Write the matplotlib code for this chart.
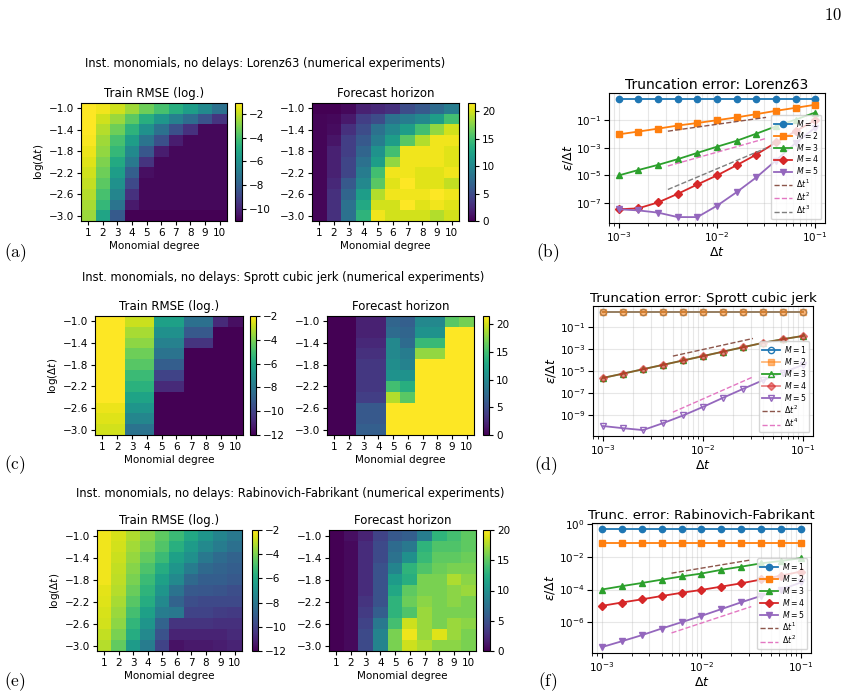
import numpy as np
import matplotlib
matplotlib.use('Agg')
import matplotlib.pyplot as plt

plt.rcParams['mathtext.fontset'] = 'dejavusans'

# ---- heatmap data: rows log(dt) = -1.0 ... -3.0, columns degree 1..10
degrees = [1, 2, 3, 4, 5, 6, 7, 8, 9, 10]
log_dt = [-1.0, -1.2, -1.4, -1.6, -1.8, -2.0, -2.2, -2.4, -2.6, -2.8, -3.0]
ytick_vals = [-1.0, -1.4, -1.8, -2.2, -2.6, -3.0]

lorenz_rmse = [
    [-1.1, -1.3, -1.8, -2.5, -3.3, -4.0, -4.8, -5.5, -6.3, -7.3],
    [-1.1, -1.8, -2.6, -3.6, -4.8, -5.8, -6.7, -7.5, -8.5, -9.5],
    [-1.1, -2.2, -3.3, -4.6, -6.0, -7.3, -8.6, -9.6, -10.8, -10.8],
    [-1.2, -2.5, -4.0, -5.5, -7.2, -8.6, -10.2, -10.8, -10.8, -10.8],
    [-1.4, -2.7, -4.4, -6.3, -8.3, -10.2, -10.8, -10.8, -10.8, -10.8],
    [-1.6, -3.0, -5.0, -7.0, -9.5, -10.8, -10.8, -10.8, -10.8, -10.8],
    [-1.8, -3.3, -5.5, -8.0, -10.6, -10.8, -10.8, -10.8, -10.8, -10.8],
    [-2.0, -3.6, -6.0, -8.8, -10.8, -10.8, -10.8, -10.8, -10.8, -10.8],
    [-2.2, -4.0, -6.5, -9.6, -10.8, -10.8, -10.8, -10.8, -10.8, -10.8],
    [-2.4, -4.4, -7.2, -10.3, -10.8, -10.8, -10.8, -10.8, -10.8, -10.8],
    [-2.6, -5.2, -8.2, -11.0, -11.0, -11.0, -11.0, -11.0, -11.0, -11.0],
]
lorenz_fh = [
    [0.0, 0.0, 0.5, 2.0, 2.5, 3.0, 5.0, 6.0, 7.5, 9.0],
    [0.3, 0.5, 1.5, 4.0, 5.0, 8.0, 9.0, 10.0, 12.0, 15.0],
    [0.3, 0.7, 3.0, 5.0, 8.0, 10.0, 12.0, 15.0, 18.0, 20.0],
    [0.3, 1.2, 4.0, 6.0, 9.0, 12.0, 16.0, 19.0, 21.0, 21.0],
    [0.3, 2.0, 4.0, 7.0, 11.0, 15.0, 21.0, 21.0, 21.0, 20.5],
    [0.3, 2.0, 4.5, 8.0, 12.0, 18.0, 21.0, 21.0, 21.0, 20.5],
    [0.3, 2.0, 4.5, 9.0, 15.0, 21.0, 21.0, 20.5, 20.5, 21.0],
    [0.3, 2.5, 6.0, 10.0, 16.0, 20.5, 21.5, 20.5, 20.5, 19.5],
    [0.3, 3.0, 7.0, 12.0, 19.0, 21.0, 21.0, 21.0, 21.5, 21.0],
    [0.3, 3.0, 8.0, 13.0, 20.0, 20.0, 21.5, 20.5, 21.0, 20.5],
    [0.3, 3.0, 8.0, 14.0, 21.0, 20.0, 20.0, 20.0, 19.0, 20.0],
]
sprott_rmse = [
    [-2.0, -2.0, -2.8, -2.8, -6.3, -6.3, -8.3, -8.3, -10.8, -11.6],
    [-2.0, -2.0, -3.3, -3.3, -7.0, -7.0, -9.2, -9.2, -12.0, -12.0],
    [-2.0, -2.0, -3.7, -3.7, -7.6, -7.6, -10.5, -10.5, -12.0, -12.0],
    [-2.0, -2.0, -4.2, -4.2, -8.2, -8.2, -12.0, -12.0, -12.0, -12.0],
    [-2.0, -2.0, -4.6, -4.6, -9.0, -9.0, -12.0, -12.0, -12.0, -12.0],
    [-2.0, -2.0, -5.2, -5.2, -10.0, -10.0, -12.0, -12.0, -12.0, -12.0],
    [-2.0, -2.0, -5.6, -5.6, -10.8, -10.8, -12.0, -12.0, -12.0, -12.0],
    [-2.0, -2.0, -6.2, -6.2, -12.0, -12.0, -12.0, -12.0, -12.0, -12.0],
    [-2.3, -2.3, -6.8, -6.8, -12.0, -12.0, -12.0, -12.0, -12.0, -12.0],
    [-2.5, -2.5, -7.4, -7.4, -12.0, -12.0, -12.0, -12.0, -12.0, -12.0],
    [-2.7, -2.7, -8.2, -8.2, -12.0, -12.0, -12.0, -12.0, -12.0, -12.0],
]
sprott_fh = [
    [0, 0, 2.0, 2.0, 7.0, 6.5, 10.0, 10.0, 16.0, 17.0],
    [0, 0, 2.0, 2.0, 7.5, 7.0, 11.0, 11.0, 21.5, 21.5],
    [0, 0, 2.5, 2.5, 10.0, 7.5, 14.5, 14.5, 21.5, 21.5],
    [0, 0, 3.0, 3.0, 10.0, 9.0, 18.0, 18.0, 21.5, 21.5],
    [0, 0, 3.5, 3.5, 10.5, 9.5, 21.5, 21.5, 21.5, 21.5],
    [0, 0, 3.5, 3.5, 11.0, 11.0, 21.5, 21.5, 21.5, 21.5],
    [0, 0, 3.5, 3.5, 15.0, 13.5, 21.5, 21.5, 21.5, 21.5],
    [0, 0, 4.0, 4.0, 19.0, 16.0, 21.5, 21.5, 21.5, 21.5],
    [0, 0, 6.0, 6.0, 21.5, 21.5, 21.5, 21.5, 21.5, 21.5],
    [0, 0, 6.0, 6.0, 21.5, 21.5, 21.5, 21.5, 21.5, 21.5],
    [0, 0, 6.5, 6.5, 21.5, 21.5, 21.5, 21.5, 21.5, 21.5],
]
rabino_rmse = [
    [-2.2, -2.6, -3.2, -3.8, -4.5, -5.2, -6.0, -6.8, -7.5, -8.0],
    [-2.2, -2.7, -3.4, -4.0, -4.7, -5.7, -6.5, -7.3, -7.8, -8.3],
    [-2.2, -2.8, -3.6, -4.4, -5.2, -6.3, -7.0, -8.0, -8.5, -8.8],
    [-2.2, -2.9, -3.8, -4.8, -5.8, -6.8, -7.8, -8.6, -8.8, -9.0],
    [-2.2, -3.0, -4.0, -5.2, -6.3, -7.3, -8.6, -9.0, -9.0, -9.2],
    [-2.4, -3.1, -4.3, -5.5, -6.8, -8.2, -9.2, -9.3, -9.4, -9.6],
    [-2.5, -3.3, -4.6, -5.8, -7.3, -8.8, -9.6, -9.8, -9.8, -9.8],
    [-2.6, -3.5, -5.0, -6.3, -7.8, -8.0, -10.0, -10.0, -10.2, -10.3],
    [-2.7, -3.7, -5.4, -6.8, -8.8, -10.5, -10.5, -10.5, -10.6, -10.6],
    [-2.9, -4.0, -5.8, -7.3, -9.5, -11.0, -11.0, -11.0, -11.0, -10.8],
    [-3.1, -4.4, -6.5, -7.8, -10.0, -11.5, -11.3, -11.3, -11.2, -11.0],
]
rabino_fh = [
    [0, 0.8, 2.0, 4.0, 5.5, 6.0, 8.5, 13.0, 14.0, 15.0],
    [0, 0.5, 2.5, 4.5, 7.0, 8.0, 13.0, 14.5, 14.5, 15.0],
    [0, 0.5, 2.5, 4.5, 7.5, 10.0, 13.5, 15.0, 15.0, 15.5],
    [0, 0.5, 2.5, 5.0, 9.0, 13.0, 14.5, 15.5, 16.0, 16.0],
    [0, 0.5, 2.5, 5.0, 11.0, 12.5, 16.0, 16.0, 17.5, 16.5],
    [0, 0.5, 2.5, 5.0, 12.0, 15.0, 16.0, 16.0, 16.5, 17.0],
    [0, 0.5, 3.0, 5.0, 13.0, 15.5, 16.5, 16.0, 16.5, 16.0],
    [0, 0.5, 3.5, 6.0, 13.0, 14.5, 17.0, 16.0, 16.0, 16.0],
    [0, 0.5, 4.0, 8.0, 14.0, 18.5, 17.0, 16.0, 17.0, 16.5],
    [0, 0.5, 4.5, 9.0, 16.0, 19.5, 17.0, 19.0, 17.0, 16.0],
    [0, 0.5, 4.5, 9.0, 16.0, 18.5, 17.5, 16.5, 16.5, 16.0],
]

# ---- truncation error data
dt = [1e-3, 1.58e-3, 2.51e-3, 3.98e-3, 6.31e-3, 1e-2, 1.58e-2, 2.51e-2, 3.98e-2, 6.31e-2, 1e-1]
ref_dt_b = [3.16e-3, 3.16e-2]
ref_dt_df = [5e-3, 3.16e-2]

lor_M1 = [3.5, 3.5, 3.5, 3.5, 3.5, 3.5, 3.5, 3.5, 3.5, 3.5, 3.5]
lor_M2 = [9.5e-3, 1.5e-2, 2.45e-2, 4.1e-2, 6.3e-2, 1.0e-1, 1.6e-1, 2.75e-1, 4.8e-1, 7.9e-1, 1.32]
lor_M3 = [1.0e-5, 2.45e-5, 5.8e-5, 1.5e-4, 4.3e-4, 1.2e-3, 3.2e-3, 1.05e-2, 3.6e-2, 1.1e-1, 3.6e-1]
lor_M4 = [3.5e-8, 4.1e-8, 1.1e-7, 4.6e-7, 2.2e-6, 1.0e-5, 5.4e-5, 3.2e-4, 2.45e-3, 1.6e-2, 1.0e-1]
lor_M5 = [3.5e-8, 2.9e-8, 2.0e-8, 9.5e-9, 9.5e-9, 6.3e-8, 6.0e-7, 7.1e-6, 1.2e-4, 2.2e-3, 2.9e-2]
lor_ref1 = [1.6e-2, 1.6e-1]
lor_ref2 = [4.8e-5, 4.8e-3]
lor_ref3 = [9.5e-7, 9.5e-4]

spr_M1 = [2.6, 2.6, 2.6, 2.6, 2.6, 2.6, 2.6, 2.6, 2.6, 2.6, 2.6]
spr_M2 = [2.6, 2.6, 2.6, 2.6, 2.6, 2.6, 2.6, 2.6, 2.6, 2.6, 2.6]
spr_M3 = [2.6e-6, 6.3e-6, 1.6e-5, 4.0e-5, 1.0e-4, 2.5e-4, 6.3e-4, 1.6e-3, 4.0e-3, 8.7e-3, 1.7e-2]
spr_M4 = [2.6e-6, 6.3e-6, 1.6e-5, 4.0e-5, 1.0e-4, 2.5e-4, 6.3e-4, 1.6e-3, 4.0e-3, 8.7e-3, 1.7e-2]
spr_M5 = [1.1e-10, 7e-11, 4.7e-11, 2.0e-10, 1.0e-9, 6.0e-9, 4.0e-8, 2.6e-7, 1.6e-6, 8e-6, 4e-5]
spr_ref2 = [2.5e-4, 1.0e-2]
spr_ref4 = [2.0e-9, 3.2e-6]

rab_M1 = [0.51, 0.51, 0.51, 0.51, 0.51, 0.51, 0.51, 0.51, 0.51, 0.51, 0.51]
rab_M2 = [0.074, 0.074, 0.074, 0.074, 0.074, 0.074, 0.074, 0.074, 0.074, 0.074, 0.074]
rab_M3 = [1.0e-4, 1.6e-4, 2.5e-4, 4.0e-4, 6.3e-4, 9.5e-4, 1.6e-3, 2.5e-3, 4.0e-3, 5.6e-3, 8.3e-3]
rab_M4 = [1.0e-5, 1.6e-5, 2.5e-5, 4.0e-5, 6.3e-5, 9.5e-5, 1.5e-4, 2.4e-4, 4.1e-4, 7.1e-4, 1.26e-3]
rab_M5 = [3.0e-8, 6.8e-8, 1.6e-7, 4.1e-7, 1.0e-6, 2.45e-6, 6.3e-6, 1.66e-5, 4.1e-5, 1.0e-4, 2.7e-4]
rab_ref1 = [1.0e-3, 6.5e-3]
rab_ref2 = [2.2e-7, 9e-6]

W, H = 854, 700
fig = plt.figure(figsize=(W / 100, H / 100), dpi=100)


def box(l, t, r, b):
    # pixel box (top-left origin) -> figure fraction
    return [l / W, 1 - b / H, (r - l) / W, (b - t) / H]


FS = 7.5


def heatmap(data, hm_box, cb_box, title, ylabel=True, vmin=None, vmax=None):
    ax = fig.add_axes(box(*hm_box))
    im = ax.imshow(np.array(data), cmap='viridis', aspect='auto',
                   extent=[0.5, 10.5, log_dt[-1] - 0.1, log_dt[0] + 0.1],
                   vmin=vmin, vmax=vmax, interpolation='nearest')
    ax.set_xticks(degrees)
    ax.set_yticks(ytick_vals)
    ax.tick_params(labelsize=FS, length=3, pad=2)
    ax.set_xlabel('Monomial degree', fontsize=FS, labelpad=2)
    if ylabel:
        ax.set_ylabel(r'log($\Delta t$)', fontsize=FS, labelpad=2)
    ax.set_title(title, fontsize=8.5, pad=4)
    cax = fig.add_axes(box(*cb_box))
    cb = fig.colorbar(im, cax=cax)
    cb.ax.tick_params(labelsize=FS, length=3, pad=2)
    return ax


def trunc(ax_box, title, series, refs, open_odd=False, tfs=10):
    ax = fig.add_axes(box(*ax_box))
    markers = ['o', 's', '^', 'D', 'v']
    colors = ['tab:blue', 'tab:orange', 'tab:green', 'tab:red', 'tab:purple']
    for i, y in enumerate(series):
        kw = dict(color=colors[i], marker=markers[i], lw=1.3, ms=4.5,
                  label=r'$M = %d$' % (i + 1))
        if open_odd:
            if i % 2 == 0:
                kw['markerfacecolor'] = 'none'
            else:
                kw['alpha'] = 0.55
        ax.loglog(dt, y, **kw)
    for rx, ry, c, lab in refs:
        ax.loglog(rx, ry, ls='--', color=c, lw=1.0, label=lab)
    ax.grid(True, which='both', alpha=0.3)
    ax.set_title(title, fontsize=tfs, pad=3)
    ax.set_xlabel(r'$\Delta t$', fontsize=9, labelpad=1)
    ax.set_ylabel(r'$\epsilon/\Delta t$', fontsize=9, labelpad=1)
    ax.tick_params(labelsize=FS, pad=2)
    ax.legend(loc='lower right', fontsize=5.6, handlelength=2.3,
              borderpad=0.35, labelspacing=0.12, handletextpad=0.5)
    return ax


# row 1: Lorenz63
fig.text(265 / W, 1 - 63 / H, 'Inst. monomials, no delays: Lorenz63 (numerical experiments)',
         ha='center', va='center', fontsize=8.3)
heatmap(lorenz_rmse, (81, 103, 227, 221), (235, 103, 242, 221), 'Train RMSE (log.)')
heatmap(lorenz_fh, (312, 103, 459, 221), (468, 103, 475, 221), 'Forecast horizon', ylabel=False)
trunc((609, 93, 825, 223), 'Truncation error: Lorenz63',
      [lor_M1, lor_M2, lor_M3, lor_M4, lor_M5],
      [(ref_dt_b, lor_ref1, 'tab:brown', r'$\Delta t^1$'),
       (ref_dt_b, lor_ref2, 'tab:pink', r'$\Delta t^2$'),
       (ref_dt_b, lor_ref3, 'tab:gray', r'$\Delta t^3$')])

# row 2: Sprott cubic jerk
fig.text(283 / W, 1 - 278 / H, 'Inst. monomials, no delays: Sprott cubic jerk (numerical experiments)',
         ha='center', va='center', fontsize=8.3)
heatmap(sprott_rmse, (95, 316, 243, 435), (250, 316, 256, 435), 'Train RMSE (log.)', vmin=-12, vmax=-2)
heatmap(sprott_fh, (327, 316, 474, 435), (483, 316, 489, 435), 'Forecast horizon', ylabel=False)
trunc((593, 306, 813, 436), 'Truncation error: Sprott cubic jerk',
      [spr_M1, spr_M2, spr_M3, spr_M4, spr_M5],
      [(ref_dt_df, spr_ref2, 'tab:brown', r'$\Delta t^2$'),
       (ref_dt_df, spr_ref4, 'tab:pink', r'$\Delta t^4$')], open_odd=True, tfs=9.6)

# row 3: Rabinovich-Fabrikant
fig.text(290 / W, 1 - 494 / H, 'Inst. monomials, no delays: Rabinovich-Fabrikant (numerical experiments)',
         ha='center', va='center', fontsize=8.3)
heatmap(rabino_rmse, (97, 530, 242, 651), (252, 530, 258, 651), 'Train RMSE (log.)', vmin=-12, vmax=-2)
heatmap(rabino_fh, (329, 530, 476, 651), (483, 530, 490, 651), 'Forecast horizon', ylabel=False, vmin=0, vmax=20)
trunc((592, 523, 811, 653), 'Trunc. error: Rabinovich-Fabrikant',
      [rab_M1, rab_M2, rab_M3, rab_M4, rab_M5],
      [(ref_dt_df, rab_ref1, 'tab:brown', r'$\Delta t^1$'),
       (ref_dt_df, rab_ref2, 'tab:pink', r'$\Delta t^2$')], tfs=9.6)

# panel labels and page number (Computer Modern look)
for lab, x, y in [('(a)', 15, 253), ('(b)', 548, 253), ('(c)', 15, 465),
                  ('(d)', 546, 466), ('(e)', 15, 682), ('(f)', 548, 682)]:
    fig.text(x / W, 1 - y / H, r'$\mathrm{%s}$' % lab, ha='center', va='center',
             fontsize=12.5, math_fontfamily='cm')
fig.text(833 / W, 1 - 15 / H, r'$\mathrm{10}$', ha='center', va='center',
         fontsize=12, math_fontfamily='cm')

fig.savefig('out.png', dpi=100)
